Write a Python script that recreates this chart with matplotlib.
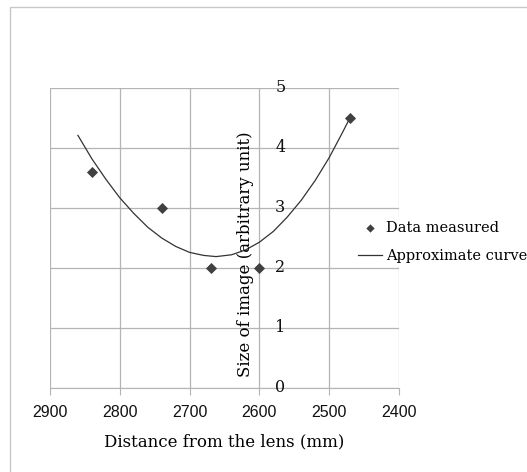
import matplotlib
matplotlib.use("Agg")
import matplotlib.pyplot as plt
from matplotlib.patches import Rectangle

# Data measured
dist_mm = [2840, 2740, 2670, 2600, 2470]
size_img = [3.6, 3.0, 2.0, 2.0, 4.5]

# Approximate curve
curve_x = [2860, 2840, 2820, 2800, 2780, 2760, 2740, 2720, 2700, 2680, 2662,
           2640, 2620, 2600, 2580, 2560, 2540, 2520, 2500, 2480, 2470]
curve_y = [4.21, 3.82, 3.48, 3.17, 2.91, 2.68, 2.50, 2.36, 2.26, 2.21, 2.19,
           2.22, 2.30, 2.43, 2.61, 2.85, 3.13, 3.46, 3.84, 4.28, 4.51]

xticks = [2900, 2800, 2700, 2600, 2500, 2400]
yticks = [0, 1, 2, 3, 4, 5]

W, H = 527, 472
fig = plt.figure(figsize=(W / 100, H / 100), dpi=100)
fig.patches.append(Rectangle((10 / W, -0.1), 1.2, 1 - 7 / H + 0.1, transform=fig.transFigure,
                             fill=False, edgecolor="#c8c8c8", linewidth=1.0))

ax = fig.add_axes([50 / W, (H - 388) / H, 349 / W, 300 / H])
ax.set_xlim(2900, 2400)
ax.set_ylim(0, 5)
ax.set_xticks(xticks)
ax.set_yticks(yticks)
ax.grid(True, color="#b4b4b4", linewidth=0.9)
ax.set_axisbelow(True)
for s in ["top", "right", "left"]:
    ax.spines[s].set_visible(False)
ax.spines["bottom"].set_color("#b4b4b4")
ax.tick_params(axis="x", direction="out", length=5, color="#b4b4b4", pad=7)
ax.set_xticklabels([str(t) for t in xticks], fontsize=11.5, family="Liberation Sans",
                   color="#111111")
ax.tick_params(axis="y", left=False, labelleft=False)

# y-axis labels at x = 2600, right side
for t in yticks:
    ax.text(2570, t, str(t), ha="center", va="center", fontsize=11.5,
            family="DejaVu Serif", color="#111111")

ax.plot(curve_x, curve_y, color="#333333", linewidth=0.9, label="Approximate curve")
ax.scatter(dist_mm, size_img, marker="D", s=32, color="#404040", zorder=3,
           label="Data measured", linewidths=0)

ax.set_xlabel("Distance from the lens (mm)", fontsize=12, family="DejaVu Serif",
              labelpad=10)
fig.text(245 / W, (H - 254) / H, "Size of image (arbitrary unit)", rotation=90,
         ha="center", va="center", fontsize=12, family="DejaVu Serif")

h, l = ax.get_legend_handles_labels()
leg = fig.legend(h[::-1], l[::-1], loc="center left",
                 bbox_to_anchor=(354 / W, (H - 242) / H),
                 frameon=True, fancybox=False, edgecolor="none", facecolor="white",
                 framealpha=1, prop={"family": "DejaVu Serif", "size": 10.5},
                 handlelength=1.6, handletextpad=0.3, borderpad=0.3, labelspacing=0.95,
                 borderaxespad=0, markerscale=0.75)

fig.savefig("out.png", dpi=100)
